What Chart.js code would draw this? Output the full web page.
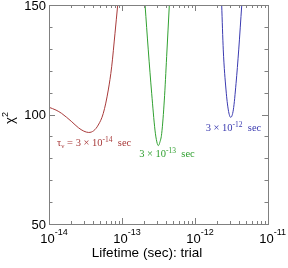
<!DOCTYPE html>
<html><head><meta charset="utf-8">
<script src="https://cdn.jsdelivr.net/npm/chart.js@4/dist/chart.umd.min.js"></script>
<style>html,body{margin:0;padding:0;background:#fff}#wrap{width:288px;height:268px}</style>
</head><body><div id="wrap"><canvas id="c" width="288" height="268"></canvas></div>
<script>
// ---- data ----
const redLifetime   = [1e-14, 1.25e-14, 1.49e-14, 2.05e-14, 2.52e-14, 3.0e-14, 3.5e-14, 4.1e-14, 4.73e-14, 5.54e-14, 6.49e-14, 7.22e-14, 8.02e-14, 8.73e-14];
const redChi2       = [103.3, 102.0, 100.5, 96.7, 94.0, 92.4, 91.8, 92.6, 95.2, 100.5, 111.2, 121.8, 137.1, 150];
const greenLifetime = [2.07e-13, 2.29e-13, 2.55e-13, 2.83e-13, 3.0e-13, 3.14e-13, 3.3e-13, 3.5e-13, 3.8e-13, 4.09e-13, 4.45e-13];
const greenChi2     = [150, 129.5, 109.7, 92.9, 87.5, 85.8, 87.3, 91.4, 106.6, 126.4, 150];
const blueLifetime  = [2.32e-12, 2.44e-12, 2.66e-12, 2.86e-12, 3.08e-12, 3.35e-12, 3.65e-12, 3.97e-12, 4.37e-12];
const blueChi2      = [150, 129.5, 111.2, 102.1, 98.7, 102.1, 114.2, 129.5, 150];
const xMin = 1e-14, xMax = 1e-11, yMin = 50, yMax = 150;
const yTickLabels = ['50', '100', '150'];
const xTickExponents = ['-14', '-13', '-12', '-11'];
const xTitle = 'Lifetime (sec): trial';
const yTitle = 'χ';
// annotation anchors (data coords) and texts
const annoX = [1.29e-14, 4.13e-13, 3.36e-12];
const annoY = [87.1, 82.2, 94.2];
const annoExp = ['-14', '-13', '-12'];
const colors = ['#a83a3a', '#30a030', '#3a3ab0'];

function pts(xs, ys){ return xs.map((x,i)=>({x:x, y:ys[i]})); }

function drawRich(ctx, parts, x, y, align){
  let w = 0;
  parts.forEach(p=>{ ctx.font = p.f; p.w = ctx.measureText(p.t).width; w += p.w; });
  let cx = align === 'center' ? x - w/2 : x;
  ctx.textAlign = 'left'; ctx.textBaseline = 'alphabetic';
  parts.forEach(p=>{ ctx.font = p.f; ctx.fillText(p.t, cx, y + (p.dy||0)); cx += p.w; });
}

const framePlugin = {
  id:'frame',
  afterDraw(chart){
    const ctx = chart.ctx, a = chart.chartArea;
    const xs = chart.scales.x, ys = chart.scales.y;
    ctx.save();
    ctx.strokeStyle = '#808080'; ctx.lineWidth = 1;
    ctx.strokeRect(Math.round(a.left)+0.5, Math.round(a.top)+0.5, Math.round(a.right-a.left), Math.round(a.bottom-a.top));
    ctx.beginPath();
    for (let d=-14; d<=-11; d++){
      for (let m=1; m<=9; m++){
        const v = m*Math.pow(10,d);
        if (v > xMax*1.0001) break;
        const px = Math.round(xs.getPixelForValue(v))+0.5;
        const L = m===1 ? 6 : 3;
        ctx.moveTo(px, a.bottom); ctx.lineTo(px, a.bottom-L);
        ctx.moveTo(px, a.top); ctx.lineTo(px, a.top+L);
      }
    }
    for (let v=yMin; v<=yMax; v+=10){
      const py = Math.round(ys.getPixelForValue(v))+0.5;
      const L = v%50===0 ? 6 : 3.5;
      ctx.moveTo(a.left, py); ctx.lineTo(a.left+L, py);
      ctx.moveTo(a.right, py); ctx.lineTo(a.right-L, py);
    }
    ctx.stroke();
    // y tick labels
    ctx.fillStyle = '#000';
    ctx.font = '13px "Liberation Sans", Arial, sans-serif';
    ctx.textAlign = 'right'; ctx.textBaseline = 'middle';
    yTickLabels.forEach(t=>{ ctx.fillText(t, a.left-3, ys.getPixelForValue(Number(t))+1); });
    // x tick labels
    xTickExponents.forEach(e=>{
      const px = xs.getPixelForValue(Math.pow(10, Number(e)));
      ctx.font = '13px "Liberation Sans", Arial, sans-serif';
      ctx.textAlign = 'center'; ctx.textBaseline = 'alphabetic';
      const w10 = ctx.measureText('10').width;
      ctx.fillText('10', px-1.5, a.bottom+19);
      ctx.font = '9px "Liberation Sans", Arial, sans-serif';
      ctx.textAlign = 'left';
      ctx.fillText(e, px-1.5+w10/2, a.bottom+11);
    });
    // x title
    ctx.font = '13.5px "Liberation Sans", Arial, sans-serif';
    ctx.textAlign = 'center'; ctx.textBaseline = 'middle';
    ctx.fillText(xTitle, 147, a.bottom+29);
    // y title rotated
    ctx.save();
    ctx.translate(14, 118);
    ctx.rotate(-Math.PI/2);
    drawRich(ctx, [{t:yTitle, f:'13px "Liberation Sans", Arial, sans-serif'},{t:'2', f:'9px "Liberation Sans", Arial, sans-serif', dy:-6}], 0, 0, 'center');
    ctx.restore();
    // annotations
    const sf = '"Liberation Serif", "DejaVu Serif", serif';
    annoExp.forEach((e,i)=>{
      ctx.fillStyle = colors[i];
      const px = xs.getPixelForValue(annoX[i]), py = ys.getPixelForValue(annoY[i]) + 3.5;
      const parts = [];
      if (i===0){
        parts.push({t:'τ', f:'10.5px '+sf});
        parts.push({t:'ν', f:'7px '+sf, dy:2});
        parts.push({t:' = ', f:'10.5px '+sf});
      }
      parts.push({t:'3 × 10', f:'10.5px '+sf});
      parts.push({t:e, f:'7.5px '+sf, dy:-4});
      parts.push({t:'  sec', f:'10.5px '+sf});
      drawRich(ctx, parts, px, py, i===0 ? 'left' : 'center');
    });
    ctx.restore();
  }
};

const ds = (data, c) => ({data, borderColor:c, borderWidth:1, pointRadius:0, fill:false, tension:0.4, cubicInterpolationMode:'monotone'});

new Chart(document.getElementById('c'), {
  type:'line',
  data:{ datasets:[ ds(pts(redLifetime, redChi2), colors[0]), ds(pts(greenLifetime, greenChi2), colors[1]), ds(pts(blueLifetime, blueChi2), colors[2]) ] },
  options:{
    responsive:false, animation:false, devicePixelRatio:1,
    layout:{ padding:{ left:0, top:5, right:20, bottom:0 } },
    plugins:{ legend:{display:false}, tooltip:{enabled:false} },
    scales:{
      x:{ type:'logarithmic', min:xMin, max:xMax, grid:{display:false}, border:{display:false}, ticks:{display:false},
          afterFit(s){ s.height = 44; } },
      y:{ type:'linear', min:yMin, max:yMax, grid:{display:false}, border:{display:false}, ticks:{display:false},
          afterFit(s){ s.width = 49; } }
    }
  },
  plugins:[framePlugin]
});
</script></body></html>
